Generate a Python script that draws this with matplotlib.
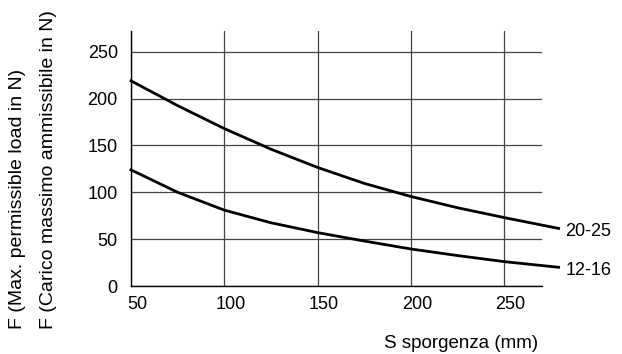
import numpy as np
import matplotlib
matplotlib.use("Agg")
import matplotlib.pyplot as plt
import matplotlib.transforms as mtrans

plt.rcParams['font.family'] = ['Liberation Sans', 'DejaVu Sans']

# dati
sporgenza = [50, 75, 100, 125, 150, 175, 200, 225, 250, 279]
carico_20_25 = [219, 192.5, 168, 146, 126.5, 109.5, 95.5, 83.5, 73, 61.5]
carico_12_16 = [124, 100, 81, 67.5, 57, 48, 39.5, 32.5, 26, 20]
etichette = ['20-25', '12-16']
x_ticks = [50, 100, 150, 200, 250]
y_ticks = [0, 50, 100, 150, 200, 250]

fig = plt.figure(figsize=(6.22, 3.54), dpi=100)
ax = fig.add_axes([0.2106, 0.192, 0.871 - 0.2106, 0.912 - 0.192])

for serie, nome in zip([carico_20_25, carico_12_16], etichette):
    ax.plot(sporgenza, serie, color='black', lw=2, clip_on=False)
    ax.annotate(nome, (sporgenza[-1], serie[-1]), xytext=(5, -2),
                textcoords='offset points', va='center', ha='left',
                fontsize=13, annotation_clip=False)

ax.set_xlim(50, 270)
ax.set_ylim(0, 272)
ax.set_xticks(x_ticks)
ax.set_yticks(y_ticks)
ax.tick_params(length=0, labelsize=13)
ax.tick_params(axis='x', pad=7)
ax.tick_params(axis='y', pad=9.5)
spost = mtrans.ScaledTranslation(0.06, 0, fig.dpi_scale_trans)
for lab in ax.get_xticklabels():
    lab.set_transform(lab.get_transform() + spost)
ax.grid(True, color='#444444', lw=0.9)
ax.set_axisbelow(True)
for s in ['top', 'right']:
    ax.spines[s].set_visible(False)
for s in ['left', 'bottom']:
    ax.spines[s].set_color('black')
    ax.spines[s].set_linewidth(1)

fig.text(384 / 622, 1 - 343 / 354, 'S sporgenza (mm)', fontsize=13.5, ha='left', va='center')
fig.text(18 / 622, 1 - 329 / 354, 'F (Max. permissible load in N)', rotation=90,
         fontsize=14, ha='center', va='bottom')
fig.text(49 / 622, 1 - 329 / 354, 'F (Carico massimo ammissibile in N)', rotation=90,
         fontsize=14, ha='center', va='bottom')

fig.savefig('out.png', dpi=100)
